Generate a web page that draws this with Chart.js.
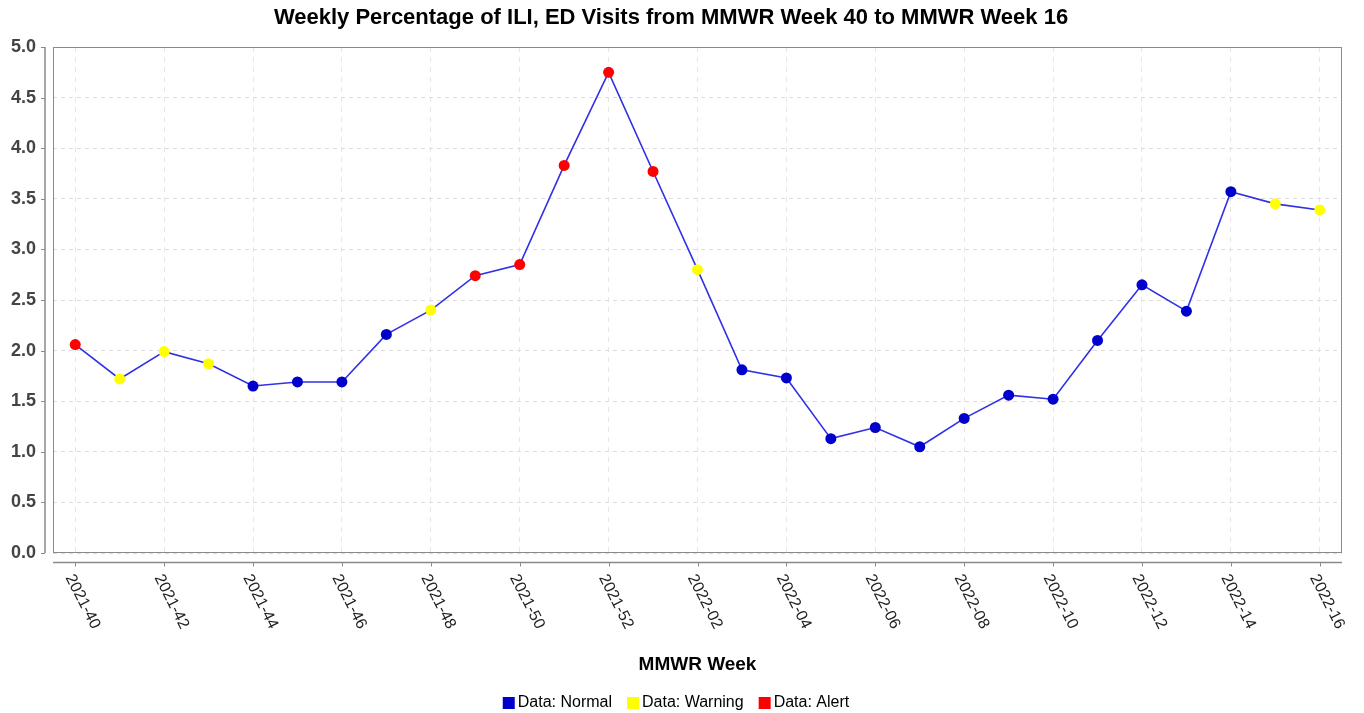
<!DOCTYPE html>
<html>
<head>
<meta charset="utf-8">
<title>Weekly Percentage of ILI</title>
<script src="https://cdn.jsdelivr.net/npm/chart.js@4/dist/chart.umd.min.js"></script>
<style>
  html, body { margin: 0; padding: 0; background: #fff; }
  #wrap { width: 1364px; height: 713px; }
</style>
</head>
<body>
<div id="wrap"><canvas id="ili-chart"></canvas></div>
<script>
/* ── Data ──────────────────────────────────────────────────────── */
var weekLabels = [
  '2021-40', '2021-41', '2021-42', '2021-43', '2021-44', '2021-45', '2021-46',
  '2021-47', '2021-48', '2021-49', '2021-50', '2021-51', '2021-52',
  '2022-01', '2022-02', '2022-03', '2022-04', '2022-05', '2022-06', '2022-07',
  '2022-08', '2022-09', '2022-10', '2022-11', '2022-12', '2022-13', '2022-14',
  '2022-15', '2022-16'
];
var iliPct = [
  2.06, 1.72, 1.99, 1.87, 1.65, 1.69, 1.69,
  2.16, 2.40, 2.74, 2.85, 3.83, 4.75,
  3.77, 2.80, 1.81, 1.73, 1.13, 1.24, 1.05,
  1.33, 1.56, 1.52, 2.10, 2.65, 2.39, 3.57,
  3.45, 3.39
];
// N = normal, W = warning, A = alert
var alertLevel = [
  'A', 'W', 'W', 'W', 'N', 'N', 'N',
  'N', 'W', 'A', 'A', 'A', 'A',
  'A', 'W', 'N', 'N', 'N', 'N', 'N',
  'N', 'N', 'N', 'N', 'N', 'N', 'N',
  'W', 'W'
];
var yTicks = [0, 0.5, 1, 1.5, 2, 2.5, 3, 3.5, 4, 4.5, 5];
var legendItems = [
  { key: 'N', text: 'Data: Normal' },
  { key: 'W', text: 'Data: Warning' },
  { key: 'A', text: 'Data: Alert' }
];

/* ── Styles ────────────────────────────────────────────────────── */
var LEVEL_COLORS = { N: '#0000cc', W: '#ffff00', A: '#ff0000' };
var LINE_COLOR = '#3030e6';
var AXIS_COLOR = '#8a8a8a';
var FONT = "'Liberation Sans', Arial, sans-serif";

var pointColors = alertLevel.map(function(k) { return LEVEL_COLORS[k]; });

/* ── Custom pieces JFreeChart draws differently than Chart.js ──── */
var jfreeLook = {
  id: 'jfreeLook',
  afterDraw: function(chart) {
    var ctx = chart.ctx;
    var a = chart.chartArea;
    var xs = chart.scales.x;
    var ys = chart.scales.y;
    var axisX = a.left - 8;     // offset y-axis line
    var axisY = a.bottom + 9.5; // offset x-axis line

    ctx.save();
    ctx.strokeStyle = AXIS_COLOR;
    ctx.lineWidth = 1;
    ctx.strokeRect(a.left + 0.5, a.top + 0.5, a.right - a.left - 1, a.bottom - a.top - 1);

    // offset axis lines
    ctx.lineWidth = 1.5;
    ctx.beginPath();
    ctx.moveTo(axisX, a.top);
    ctx.lineTo(axisX, a.bottom);
    ctx.moveTo(a.left, axisY);
    ctx.lineTo(a.right, axisY);
    ctx.stroke();

    // tick marks
    ctx.lineWidth = 1;
    ctx.beginPath();
    yTicks.forEach(function(v) {
      var py = Math.round(ys.getPixelForValue(v)) + 0.5;
      ctx.moveTo(axisX - 4, py);
      ctx.lineTo(axisX, py);
    });
    weekLabels.forEach(function(lbl, i) {
      if (i % 2) return;
      var px = Math.round(xs.getPixelForValue(i)) + 0.5;
      ctx.moveTo(px, axisY);
      ctx.lineTo(px, axisY + 4);
    });
    ctx.stroke();

    // rotated week labels, reading downwards to the right
    ctx.fillStyle = '#222';
    ctx.font = '16px ' + FONT;
    ctx.textAlign = 'left';
    ctx.textBaseline = 'middle';
    weekLabels.forEach(function(lbl, i) {
      if (i % 2) return;
      var px = xs.getPixelForValue(i);
      ctx.save();
      ctx.translate(px - 6, axisY + 13);
      ctx.rotate(63 * Math.PI / 180);
      ctx.fillText(lbl, 0, 0);
      ctx.restore();
    });

    // axis title
    ctx.fillStyle = '#000';
    ctx.font = 'bold 19px ' + FONT;
    ctx.textAlign = 'center';
    ctx.fillText('MMWR Week', (a.left + a.right) / 2, 665);

    // legend
    ctx.font = '16px ' + FONT;
    var box = 12, gapText = 3, gapItem = 15;
    var widths = legendItems.map(function(it) {
      return box + gapText + ctx.measureText(it.text).width;
    });
    var total = widths.reduce(function(s, w) { return s + w; }, 0) + gapItem * (legendItems.length - 1);
    var lx = 676 - total / 2;
    var ly = 703;
    ctx.textAlign = 'left';
    legendItems.forEach(function(it, i) {
      ctx.fillStyle = LEVEL_COLORS[it.key];
      ctx.fillRect(lx, ly - box / 2, box, box);
      ctx.fillStyle = '#000';
      ctx.fillText(it.text, lx + box + gapText, ly);
      lx += widths[i] + gapItem;
    });
    ctx.restore();
  }
};

/* ── Chart ─────────────────────────────────────────────────────── */
new Chart(document.getElementById('ili-chart'), {
  type: 'line',
  data: {
    labels: weekLabels,
    datasets: [{
      label: 'ILI %',
      data: iliPct,
      borderColor: LINE_COLOR,
      borderWidth: 1.6,
      tension: 0,
      pointRadius: 5.5,
      pointHoverRadius: 5.5,
      pointBorderWidth: 0,
      pointBackgroundColor: pointColors,
      pointBorderColor: pointColors,
      clip: false
    }]
  },
  options: {
    responsive: true,
    maintainAspectRatio: false,
    animation: false,
    layout: { padding: { top: 0, right: 22, bottom: 0, left: 0 } },
    plugins: {
      legend: { display: false },
      tooltip: { enabled: false },
      title: {
        display: true,
        text: 'Weekly Percentage of ILI, ED Visits from MMWR Week 40 to MMWR Week 16',
        color: '#000',
        font: { family: FONT, size: 22, weight: 'bold', lineHeight: 1.2 },
        padding: { top: 5, bottom: 15.6 }
      }
    },
    scales: {
      x: {
        type: 'category',
        offset: true,
        afterFit: function(scale) { scale.height = 160; },
        ticks: { display: false, autoSkip: false },
        border: { display: false, dash: [5, 5] },
        grid: {
          offset: false,
          drawTicks: false,
          color: function(c) { return c.index % 2 === 0 ? '#e6e6e6' : 'rgba(0,0,0,0)'; }
        }
      },
      y: {
        min: 0,
        max: 5,
        afterFit: function(scale) { scale.width = 53; },
        afterBuildTicks: function(scale) {
          scale.ticks = yTicks.map(function(v) { return { value: v }; });
        },
        ticks: {
          padding: 17,
          color: '#444',
          font: { family: FONT, size: 18, weight: 'bold' },
          callback: function(v) { return Number(v).toFixed(1); }
        },
        border: { display: false, dash: [4, 4] },
        grid: { drawTicks: false, color: '#dcdcdc' }
      }
    }
  },
  plugins: [jfreeLook]
});
</script>
</body>
</html>
